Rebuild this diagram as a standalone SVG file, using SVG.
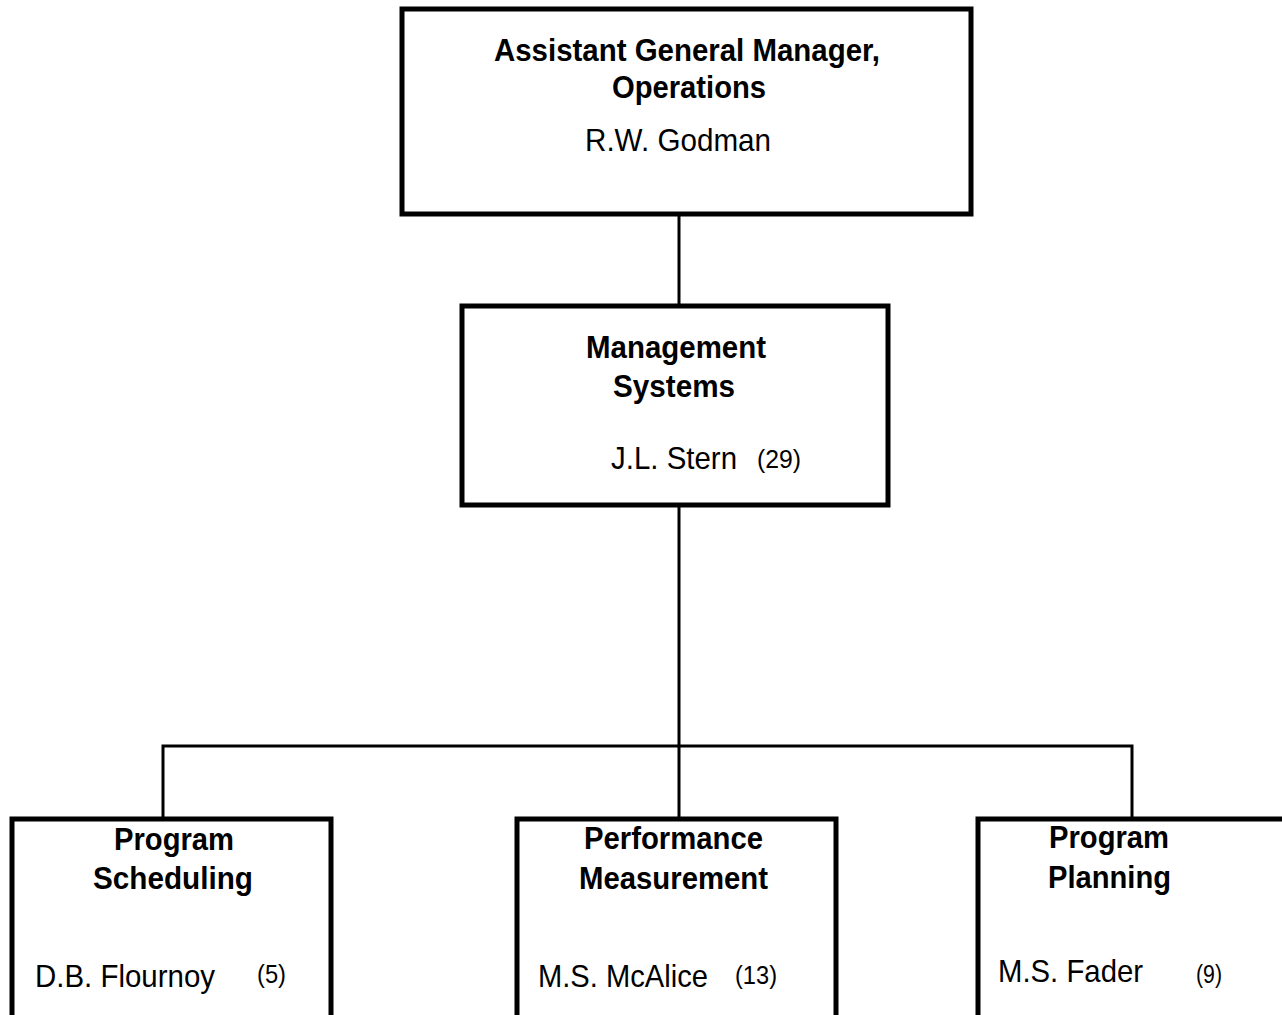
<svg xmlns="http://www.w3.org/2000/svg" width="1282" height="1015" viewBox="0 0 1282 1015">
<style>
.box{fill:#fff;stroke:#000;stroke-width:5}
.con{fill:none;stroke:#000;stroke-width:3}
.t{font-family:"Liberation Sans",Arial,sans-serif;font-size:32px;fill:#000}
.b{font-weight:bold}
.s{font-size:26px}
</style>
<rect width="1282" height="1015" fill="#fff"/>
<g id="connectors">
<path class="con" d="M679 214V305"/>
<path class="con" d="M679 505V818"/>
<path class="con" d="M163 818V746H1132V818"/>
</g>
<g id="agm">
<rect class="box" x="402" y="9" width="569" height="205"/>
<text class="t b" x="494" y="61" textLength="386" lengthAdjust="spacingAndGlyphs">Assistant General Manager,</text>
<text class="t b" x="612" y="98" textLength="154" lengthAdjust="spacingAndGlyphs">Operations</text>
<text class="t" x="585" y="151" textLength="186" lengthAdjust="spacingAndGlyphs">R.W. Godman</text>
</g>
<g id="ms">
<rect class="box" x="462" y="306" width="426" height="199"/>
<text class="t b" x="586" y="358" textLength="180" lengthAdjust="spacingAndGlyphs">Management</text>
<text class="t b" x="613" y="397" textLength="122" lengthAdjust="spacingAndGlyphs">Systems</text>
<text class="t" x="611" y="469" textLength="126" lengthAdjust="spacingAndGlyphs">J.L. Stern</text>
<text class="t s" x="757" y="468" textLength="44" lengthAdjust="spacingAndGlyphs">(29)</text>
</g>
<g id="ps">
<rect class="box" x="12" y="819" width="319" height="200"/>
<text class="t b" x="114" y="850" textLength="120" lengthAdjust="spacingAndGlyphs">Program</text>
<text class="t b" x="93" y="889" textLength="160" lengthAdjust="spacingAndGlyphs">Scheduling</text>
<text class="t" x="35" y="987" textLength="180" lengthAdjust="spacingAndGlyphs">D.B. Flournoy</text>
<text class="t s" x="257" y="983" textLength="29" lengthAdjust="spacingAndGlyphs">(5)</text>
</g>
<g id="pm">
<rect class="box" x="517" y="819" width="319" height="200"/>
<text class="t b" x="584" y="849" textLength="179" lengthAdjust="spacingAndGlyphs">Performance</text>
<text class="t b" x="579" y="889" textLength="189" lengthAdjust="spacingAndGlyphs">Measurement</text>
<text class="t" x="538" y="987" textLength="170" lengthAdjust="spacingAndGlyphs">M.S. McAlice</text>
<text class="t s" x="735" y="984" textLength="42" lengthAdjust="spacingAndGlyphs">(13)</text>
</g>
<g id="pp">
<rect class="box" x="978" y="819" width="310" height="200"/>
<text class="t b" x="1049" y="848" textLength="120" lengthAdjust="spacingAndGlyphs">Program</text>
<text class="t b" x="1048" y="888" textLength="123" lengthAdjust="spacingAndGlyphs">Planning</text>
<text class="t" x="998" y="982" textLength="145" lengthAdjust="spacingAndGlyphs">M.S. Fader</text>
<text class="t s" x="1196" y="983" textLength="26" lengthAdjust="spacingAndGlyphs">(9)</text>
</g>
</svg>
